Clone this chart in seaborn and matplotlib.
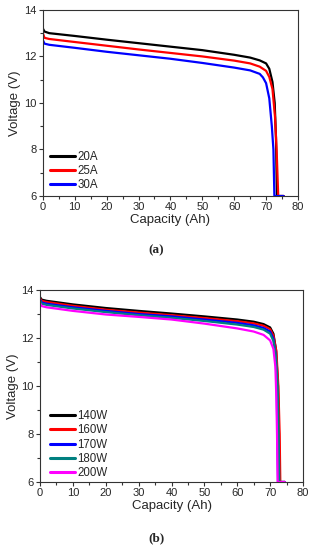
import numpy as np
import pandas as pd
import seaborn as sns
import matplotlib.pyplot as plt
from matplotlib.ticker import MultipleLocator

# ---- panel (a): constant current discharge ----
cap_20a = [0, 0.5, 2, 10, 20, 30, 40, 50, 60, 65, 68, 70, 71, 72, 72.7, 73.1, 73.4, 75.5]
v_20a = [13.2, 13.07, 13.0, 12.88, 12.72, 12.57, 12.42, 12.27, 12.07, 11.95, 11.83, 11.7, 11.47, 10.9, 10.0, 8.5, 6.0, 6.0]
cap_25a = [0, 0.5, 2, 10, 20, 30, 40, 50, 60, 65, 68, 70, 71, 72, 72.8, 73.3, 73.8, 75.5]
v_25a = [13.0, 12.8, 12.75, 12.62, 12.46, 12.3, 12.15, 12.0, 11.82, 11.7, 11.56, 11.38, 11.12, 10.6, 9.4, 8.0, 6.0, 6.0]
cap_30a = [0, 0.5, 2, 10, 20, 30, 40, 50, 60, 65, 68, 69, 70, 71, 71.8, 72.3, 72.6, 75.5]
v_30a = [12.7, 12.55, 12.5, 12.37, 12.2, 12.05, 11.9, 11.72, 11.52, 11.4, 11.25, 11.1, 10.85, 10.2, 9.0, 8.0, 6.0, 6.0]

# ---- panel (b): constant power discharge ----
cap_140w = [0, 0.5, 2, 10, 20, 30, 40, 50, 60, 65, 68, 70, 71, 71.8, 72.4, 72.7, 72.9, 74.5]
v_140w = [13.7, 13.6, 13.55, 13.4, 13.25, 13.13, 13.02, 12.9, 12.77, 12.68, 12.58, 12.44, 12.18, 11.5, 10.0, 8.0, 6.0, 6.0]
cap_160w = [0, 0.5, 2, 10, 20, 30, 40, 50, 60, 65, 68, 70, 71, 71.9, 72.5, 72.9, 73.1, 74.5]
v_160w = [13.65, 13.55, 13.5, 13.34, 13.18, 13.06, 12.95, 12.83, 12.7, 12.61, 12.51, 12.37, 12.1, 11.45, 10.0, 8.0, 6.0, 6.0]
cap_170w = [0, 0.5, 2, 10, 20, 30, 40, 50, 60, 65, 68, 70, 71, 71.6, 72.0, 72.2, 72.4, 74.5]
v_170w = [13.6, 13.48, 13.43, 13.28, 13.13, 13.0, 12.9, 12.77, 12.63, 12.53, 12.42, 12.27, 11.97, 11.4, 10.0, 8.0, 6.0, 6.0]
cap_180w = [0, 0.5, 2, 10, 20, 30, 40, 50, 60, 65, 68, 70, 71, 71.8, 72.3, 72.6, 72.8, 74.5]
v_180w = [13.55, 13.43, 13.38, 13.23, 13.08, 12.95, 12.84, 12.71, 12.56, 12.46, 12.35, 12.18, 11.88, 11.2, 10.0, 8.0, 6.0, 6.0]
cap_200w = [0, 0.5, 2, 10, 20, 30, 40, 50, 60, 65, 68, 70, 71, 71.6, 71.9, 72.1, 72.3, 74.5]
v_200w = [13.45, 13.33, 13.28, 13.13, 12.98, 12.88, 12.77, 12.6, 12.4, 12.27, 12.13, 11.9, 11.55, 10.8, 9.5, 8.0, 6.0, 6.0]

labels_a = ['20A', '25A', '30A']
labels_b = ['140W', '160W', '170W', '180W', '200W']
colors_a = ['#000000', '#ff0000', '#0000ff']
colors_b = ['#000000', '#ff0000', '#0000ff', '#008080', '#ff00ff']


def make_df(caps, volts, labels):
    parts = []
    for c, v, lab in zip(caps, volts, labels):
        parts.append(pd.DataFrame({'cap': c, 'volt': v, 'series': lab}))
    return pd.concat(parts, ignore_index=True)


df_a = make_df([cap_20a, cap_25a, cap_30a], [v_20a, v_25a, v_30a], labels_a)
df_b = make_df([cap_140w, cap_160w, cap_170w, cap_180w, cap_200w],
               [v_140w, v_160w, v_170w, v_180w, v_200w], labels_b)

sns.set_style('ticks')
plt.rcParams['font.family'] = ['Liberation Sans', 'DejaVu Sans']

fig = plt.figure(figsize=(3.13, 5.5), dpi=100)
ax_a = fig.add_axes([0.137, 0.6436, 0.815, 0.3384])
ax_b = fig.add_axes([0.128, 0.1236, 0.840, 0.3491])


def style_axis(ax, df, labels, colors, leg_anchor):
    sns.lineplot(data=df, x='cap', y='volt', hue='series', hue_order=labels,
                 palette=dict(zip(labels, colors)), sort=False, estimator=None,
                 linewidth=1.6, ax=ax)
    ax.set_xlim(0, 80)
    ax.set_ylim(6, 14)
    ax.xaxis.set_major_locator(MultipleLocator(10))
    ax.xaxis.set_minor_locator(MultipleLocator(5))
    ax.yaxis.set_major_locator(MultipleLocator(2))
    ax.yaxis.set_minor_locator(MultipleLocator(1))
    ax.tick_params(which='major', length=3, width=0.8, labelsize=8, pad=1.5, color='#333333')
    ax.tick_params(which='minor', length=2, width=0.8, color='#333333')
    for s in ax.spines.values():
        s.set_linewidth(0.8)
        s.set_color('#333333')
    ax.set_xlabel('Capacity (Ah)', fontsize=9.5, labelpad=1)
    ax.set_ylabel('Voltage (V)', fontsize=9.5, labelpad=2)
    leg = ax.legend(loc='lower left', bbox_to_anchor=leg_anchor, frameon=False,
                    fontsize=8.3, handlelength=2.2, handletextpad=0.2,
                    labelspacing=0.2, borderaxespad=0)
    for line in leg.get_lines():
        line.set_linewidth(2.2)


style_axis(ax_a, df_a, labels_a, colors_a, (0.01, 0.0))
style_axis(ax_b, df_b, labels_b, colors_b, (0.02, -0.01))

fig.text(0.5, 1 - 250 / 550, '(a)', ha='center', va='center', fontsize=9.5,
         fontweight='bold', family=['Liberation Serif', 'DejaVu Serif'])
fig.text(0.5, 1 - 538 / 550, '(b)', ha='center', va='center', fontsize=9.5,
         fontweight='bold', family=['Liberation Serif', 'DejaVu Serif'])

fig.savefig('out.png', dpi=100)
